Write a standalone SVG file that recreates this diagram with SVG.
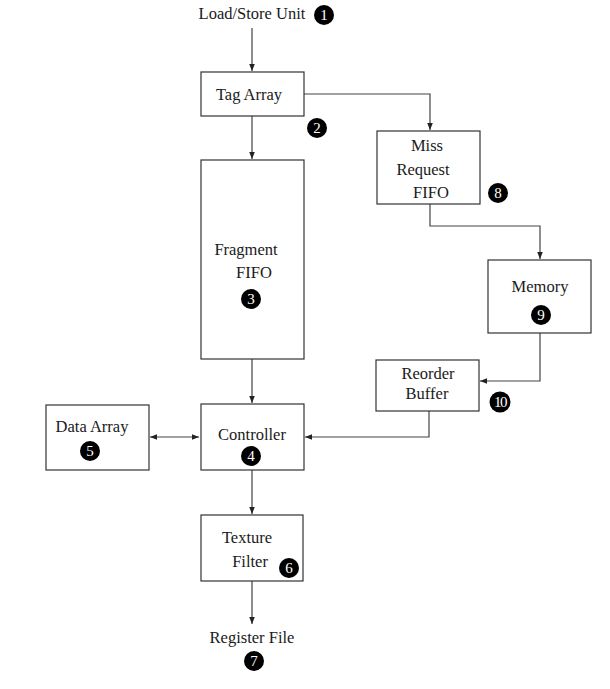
<svg xmlns="http://www.w3.org/2000/svg" width="610" height="689" viewBox="0 0 610 689">
<style>
.box{fill:#fff;stroke:#333;stroke-width:1.2}
.t{font-family:"Liberation Serif","DejaVu Serif",serif;font-size:16.5px;fill:#1a1a1a;text-anchor:middle}
.n{font-family:"Liberation Serif","DejaVu Serif",serif;font-size:15px;fill:#fff;text-anchor:middle}
.c{fill:#000}
.ln{fill:none;stroke:#444;stroke-width:1.2}
</style>
<defs>
<marker id="ah" viewBox="0 0 10 10" refX="10" refY="5" markerWidth="7" markerHeight="7" orient="auto-start-reverse" markerUnits="userSpaceOnUse">
<path d="M0,1 L10,5 L0,9 z" fill="#222"/>
</marker>
</defs>
<rect width="610" height="689" fill="#fff"/>
<g id="connectors">
<path class="ln" d="M252,28 V71" marker-end="url(#ah)"/>
<path class="ln" d="M304,94 H430 V130" marker-end="url(#ah)"/>
<path class="ln" d="M252,116 V159" marker-end="url(#ah)"/>
<path class="ln" d="M430,204 V226 H540 V259" marker-end="url(#ah)"/>
<path class="ln" d="M540,333 V381 H480" marker-end="url(#ah)"/>
<path class="ln" d="M429,411 V437 H305" marker-end="url(#ah)"/>
<path class="ln" d="M252,359 V403" marker-end="url(#ah)"/>
<path class="ln" d="M150,437 H199" marker-start="url(#ah)" marker-end="url(#ah)"/>
<path class="ln" d="M252,470 V514" marker-end="url(#ah)"/>
<path class="ln" d="M252,581 V624" marker-end="url(#ah)"/>
</g>
<g id="load-store">
<text class="t" x="252" y="19">Load/Store Unit</text>
<circle class="c" cx="324" cy="15" r="10"/><text class="n" x="324" y="20">1</text>
</g>
<g id="tag-array">
<rect class="box" x="201" y="72" width="103" height="44"/>
<text class="t" x="249" y="100">Tag Array</text>
<circle class="c" cx="317" cy="128" r="10"/><text class="n" x="317" y="133">2</text>
</g>
<g id="fragment-fifo">
<rect class="box" x="201" y="160" width="103" height="199"/>
<text class="t" x="246" y="255">Fragment</text>
<text class="t" x="254" y="278">FIFO</text>
<circle class="c" cx="251" cy="299" r="10"/><text class="n" x="251" y="304">3</text>
</g>
<g id="miss-request-fifo">
<rect class="box" x="377" y="131" width="103" height="73"/>
<text class="t" x="427" y="151">Miss</text>
<text class="t" x="423" y="175">Request</text>
<text class="t" x="431" y="198">FIFO</text>
<circle class="c" cx="498" cy="193" r="10"/><text class="n" x="498" y="198">8</text>
</g>
<g id="memory">
<rect class="box" x="488" y="260" width="103" height="73"/>
<text class="t" x="540" y="292">Memory</text>
<circle class="c" cx="541" cy="315" r="10"/><text class="n" x="541" y="320">9</text>
</g>
<g id="reorder-buffer">
<rect class="box" x="376" y="360" width="103" height="51"/>
<text class="t" x="428" y="379">Reorder</text>
<text class="t" x="427" y="399">Buffer</text>
<circle class="c" cx="500" cy="402" r="10.5"/><text class="n" x="500" y="407" style="letter-spacing:-1.5px">10</text>
</g>
<g id="data-array">
<rect class="box" x="46" y="405" width="103" height="65"/>
<text class="t" x="92" y="432">Data Array</text>
<circle class="c" cx="90" cy="451" r="10"/><text class="n" x="90" y="456">5</text>
</g>
<g id="controller">
<rect class="box" x="201" y="404" width="103" height="66"/>
<text class="t" x="252" y="440">Controller</text>
<circle class="c" cx="251" cy="456" r="10"/><text class="n" x="251" y="461">4</text>
</g>
<g id="texture-filter">
<rect class="box" x="201" y="515" width="102" height="66"/>
<text class="t" x="247" y="543">Texture</text>
<text class="t" x="250" y="567">Filter</text>
<circle class="c" cx="289" cy="568" r="10"/><text class="n" x="289" y="573">6</text>
</g>
<g id="register-file">
<text class="t" x="252" y="643">Register File</text>
<circle class="c" cx="254" cy="661" r="10"/><text class="n" x="254" y="666">7</text>
</g>
</svg>
